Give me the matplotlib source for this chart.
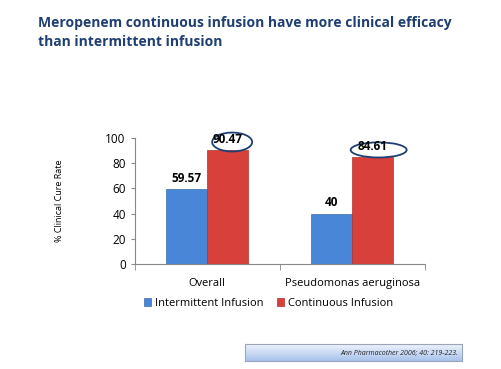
import matplotlib
matplotlib.use("Agg")
import matplotlib.pyplot as plt
from matplotlib.patches import Ellipse
import numpy as np

# datos
categorias = ["Overall", "Pseudomonas aeruginosa"]
intermitente = [59.57, 40]
continua = [90.47, 84.61]
series = ["Intermittent Infusion", "Continuous Infusion"]

plt.rcParams['font.family'] = ['Open Sans', 'DejaVu Sans']

fig = plt.figure(figsize=(5.01, 3.69), dpi=100)
fig.patch.set_facecolor("white")

# titulo
fig.text(0.076, 0.912, "Meropenem continuous infusion have more clinical efficacy\nthan intermittent infusion",
         fontsize=10, fontweight="bold", color="#1F3F73", va="center", ha="left", linespacing=1.5)

ax = fig.add_axes([0.269, 0.2846, 0.579, 0.3415])
x = np.arange(len(categorias))
w = 0.283
b1 = ax.bar(x - w / 2, intermitente, w, color="#4A86D8", edgecolor="#3A6DB0", linewidth=0.5,
            label=series[0])
b2 = ax.bar(x + w / 2, continua, w, color="#D8413B", edgecolor="#B52E2A", linewidth=0.5,
            label=series[1])

for rect, v in zip(list(b1) + list(b2), intermitente + continua):
    xc = rect.get_x() + rect.get_width() / 2
    ax.text(xc, v + 3.5, f"{v:g}", ha="center", va="bottom", fontsize=8.5, fontweight="bold",
            color="black")

# circulos en los valores de infusion continua
elipses = [((0.03, 6.3), 0.276, 15), ((0.04, 5.9), 0.386, 12)]
for rect, v, ((dx, dy), ew, eh) in zip(b2, continua, elipses):
    xc = rect.get_x() + rect.get_width() / 2
    ax.add_patch(Ellipse((xc + dx, v + dy), ew, eh, fill=False, edgecolor="#1F3F73",
                         linewidth=1.3, clip_on=False))

ax.set_xlim(-0.5, 1.5)
ax.set_ylim(0, 100)
ax.set_yticks(range(0, 101, 20))
ax.set_xticks(x)
ax.set_xticklabels(categorias, fontsize=8)
ax.set_xticks([-0.5, 0.5, 1.5], minor=True)
ax.tick_params(axis="x", which="major", length=0, pad=10)
ax.tick_params(axis="x", which="minor", length=4, color="#888888")
ax.tick_params(axis="y", labelsize=8.5, length=3, color="#888888")
ax.spines["top"].set_visible(False)
ax.spines["right"].set_visible(False)
ax.spines["left"].set_color("#888888")
ax.spines["bottom"].set_color("#888888")
ax.set_ylabel("% Clinical Cure Rate", fontsize=6.5, labelpad=30)

ax.legend(loc="upper center", bbox_to_anchor=(0.46, -0.19), ncol=2, frameon=False,
          fontsize=8, handlelength=0.7, handleheight=0.7, handletextpad=0.3, columnspacing=1.2)

# referencia (caja con degradado)
cax = fig.add_axes([0.489, 0.022, 0.433, 0.047])
grad = np.linspace(0, 1, 50).reshape(-1, 1)
cmap = matplotlib.colors.LinearSegmentedColormap.from_list("caja", ["#F2F6FD", "#A9C3EC"])
cax.imshow(grad, aspect="auto", cmap=cmap, extent=(0, 1, 0, 1))
cax.set_xticks([])
cax.set_yticks([])
for s in cax.spines.values():
    s.set_color("#9AA6B8")
    s.set_linewidth(0.8)
cax.text(0.985, 0.5, "Ann Pharmacother 2006; 40: 219-223.", fontsize=5, style="italic",
         ha="right", va="center", color="#222222", transform=cax.transAxes)

fig.savefig("out.png", dpi=100)
